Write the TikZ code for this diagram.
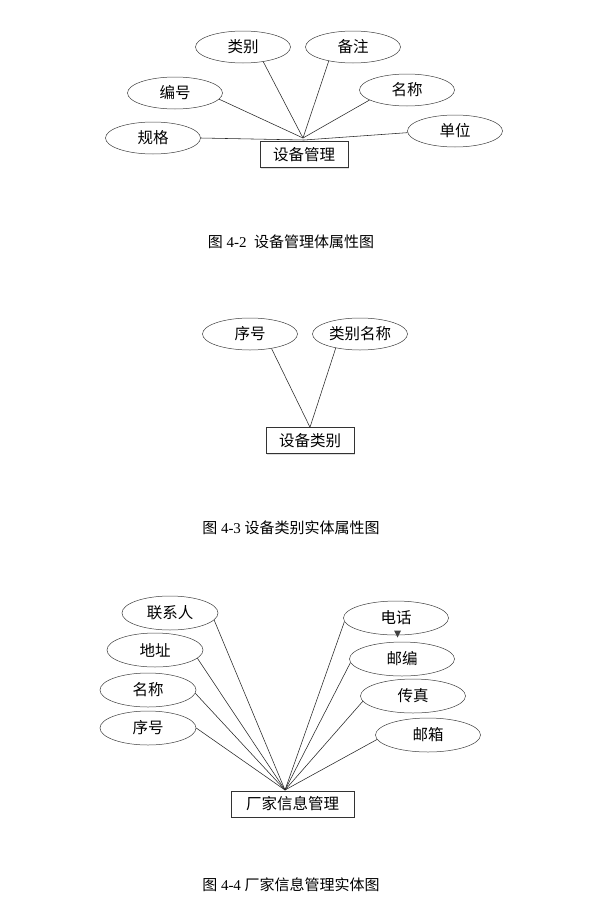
\documentclass[tikz,border=0pt]{standalone}
\usepackage{fontspec}
\setmainfont{Liberation Serif}
\newfontfamily\cjk{Noto Sans CJK SC}
\usetikzlibrary{shapes.geometric, shadows}
\tikzset{shuxing/.style={ellipse,draw=black!75,line width=0.5pt,minimum width=95pt,minimum height=32pt,
		inner sep=0pt,font=\cjk\fontsize{15.5}{17}\selectfont},
	shiti/.style={rectangle,draw=black!80,line width=0.5pt,minimum height=26pt,inner sep=0pt,
		fill=white,font=\cjk\fontsize{15.5}{17}\selectfont,
		drop shadow={shadow xshift=1.2pt,shadow yshift=-1.2pt,fill=black!25}},
	linie/.style={draw=black!85,line width=0.55pt},
	titel/.style={inner sep=0pt,font=\fontsize{15}{17}\selectfont} }

\begin{document}
\begin{tikzpicture}[x=1pt,y=-1pt]
  \fill[white] (0,0) rectangle (591,905);
  \useasboundingbox (0,0) rectangle (591,905);

  % Bild 4-2
  \node (lb) [shuxing] at (243,47) {类别};
  \node (bz) [shuxing] at (353,47) {备注};
  \node (bh) [shuxing] at (175,93) {编号};
  \node (mc) [shuxing] at (407,90) {名称};
  \node (gg) [shuxing] at (153,138) {规格};
  \node (dw) [shuxing] at (455,131) {单位};
  \node (sbgl) [shiti, minimum width=88pt] at (304,154.5) {设备管理};
  \coordinate (p1) at (303,138);
  \coordinate (p1b) at (304,140);
  \draw [linie] (lb.-36) -- (p1);
  \draw [linie] (bz.-150) -- (p1);
  \draw [linie] (bh.-8) -- (p1);
  \draw [linie] (mc.-165) -- (p1);
  \draw [linie] (gg.east) -- (p1b);
  \draw [linie] (dw.-178) -- (p1b);
  \node (t1) [titel] at (291,242) {{\cjk 图} 4-2 \ {\cjk 设备管理体属性图}};

  % Bild 4-3
  \node (xh) [shuxing] at (250,334) {序号};
  \node (lbmc) [shuxing] at (360,334) {类别名称};
  \node (sblb) [shiti, minimum width=88pt] at (310,440.5) {设备类别};
  \draw [linie] (xh.-34) -- (sblb.north);
  \draw [linie] (lbmc.-150) -- (sblb.north);
  \node (t2) [titel] at (291,528) {{\cjk 图} 4-3 {\cjk 设备类别实体属性图}};

  % Bild 4-4
  \node (lxr) [shuxing, minimum width=96pt, minimum height=34pt] at (170,613) {联系人};
  \node (dz) [shuxing, minimum width=96pt, minimum height=34pt] at (155,650) {地址};
  \node (mc2) [shuxing, minimum width=96pt, minimum height=34pt] at (148,690) {名称};
  \node (xh2) [shuxing, minimum width=96pt, minimum height=34pt] at (148,728) {序号};
  \node (dh) [shuxing, minimum width=105pt, minimum height=34pt] at (396,618) {电话};
  \node (yb) [shuxing, minimum width=105pt, minimum height=34pt] at (402,659) {邮编};
  \node (cz) [shuxing, minimum width=105pt, minimum height=34pt] at (413,696) {传真};
  \node (yx) [shuxing, minimum width=105pt, minimum height=34pt] at (428,735) {邮箱};
  \node (cjxx) [shiti, minimum width=123pt] at (292.5,804) {厂家信息管理};
  \coordinate (p3) at (285,790);
  \draw [linie] (lxr.-9) -- (p3);
  \draw [linie] (dz.-11) -- (p3);
  \draw [linie] (mc2.-4) -- (p3);
  \draw [linie] (xh2.east) -- (p3);
  \draw [linie] (dh.-176) -- (p3);
  \draw [linie] (yb.-176) -- (p3);
  \draw [linie] (cz.-174) -- (p3);
  \draw [linie] (yx.-175) -- (p3);
  \fill [black!75] (394,630.5) -- (401,630.5) -- (397.5,637.5) -- cycle;
  \node (t3) [titel] at (291,885) {{\cjk 图} 4-4 {\cjk 厂家信息管理实体图}};
\end{tikzpicture}
\end{document}
